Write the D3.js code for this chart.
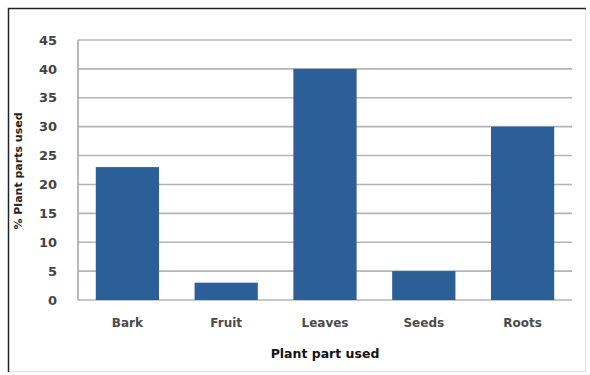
<!DOCTYPE html>
<html>
<head>
<meta charset="utf-8">
<script src="https://cdn.jsdelivr.net/npm/d3@7"></script>
<style>
  body { margin: 0; background: #fff; }
</style>
</head>
<body>
<div id="chart-area"></div>
<script>
var categories = ["Bark", "Fruit", "Leaves", "Seeds", "Roots"];
var percents = [23, 3, 40, 5, 30];
var yTicks = [0, 5, 10, 15, 20, 25, 30, 35, 40, 45];

var W = 590, H = 375;
var margin = {top: 40, right: 18, bottom: 75, left: 78};
var width = W - margin.left - margin.right;
var height = H - margin.top - margin.bottom;

var svg = d3.select("#chart-area")
  .append("svg")
    .attr("width", W)
    .attr("height", H);

// frame around the chart
svg.append("rect")
  .attr("x", 8.5).attr("y", 8.5)
  .attr("width", 577).attr("height", 363)
  .attr("fill", "none")
  .attr("stroke", "#e2e2e2");
svg.append("path")
  .attr("d", "M8.5,372V8.5H586")
  .attr("fill", "none")
  .attr("stroke", "#222")
  .attr("stroke-width", 1.5);

var g = svg.append("g")
  .attr("transform", "translate(" + margin.left + "," + margin.top + ")");

var x = d3.scaleBand()
  .domain(categories)
  .range([0, width])
  .paddingInner(0.36)
  .paddingOuter(0.18);

var y = d3.scaleLinear()
  .domain([0, 45])
  .range([height, 0]);

// gridlines
g.selectAll(".grid")
  .data(yTicks)
  .enter()
  .append("line")
    .attr("class", "grid")
    .attr("x1", 0)
    .attr("x2", width)
    .attr("y1", function(d) { return y(d); })
    .attr("y2", function(d) { return y(d); })
    .attr("stroke", "#b4b4b4")
    .attr("stroke-width", 1.6);

// left axis line
g.append("line")
  .attr("x1", 0).attr("x2", 0)
  .attr("y1", y(45)).attr("y2", y(0))
  .attr("stroke", "#a8a8a8")
  .attr("stroke-width", 1.6);

var leftAxis = d3.axisLeft(y)
  .tickValues(yTicks)
  .tickSize(0)
  .tickPadding(21);

var yAxisGroup = g.append("g").call(leftAxis);
yAxisGroup.select(".domain").remove();
yAxisGroup.selectAll("text")
  .attr("font-family", "DejaVu Sans, Verdana, sans-serif")
  .attr("font-size", "13px")
  .attr("font-weight", "bold")
  .attr("fill", "#444");

var bottomAxis = d3.axisBottom(x)
  .tickSize(0)
  .tickPadding(18);

var xAxisGroup = g.append("g")
  .attr("transform", "translate(0," + height + ")")
  .call(bottomAxis);
xAxisGroup.select(".domain").remove();
xAxisGroup.selectAll("text")
  .attr("font-family", "DejaVu Sans, Verdana, sans-serif")
  .attr("font-size", "12px")
  .attr("font-weight", "bold")
  .attr("fill", "#4a4a4a");

// bars
g.selectAll(".bar")
  .data(percents)
  .enter()
  .append("rect")
    .attr("class", "bar")
    .attr("x", function(d, i) { return x(categories[i]); })
    .attr("y", function(d) { return y(d); })
    .attr("width", x.bandwidth())
    .attr("height", function(d) { return height - y(d); })
    .attr("fill", "#2c5f98");

// axis titles
g.append("text")
  .attr("x", width / 2)
  .attr("y", height + 58)
  .attr("text-anchor", "middle")
  .attr("font-family", "DejaVu Sans, Verdana, sans-serif")
  .attr("font-size", "12.5px")
  .attr("font-weight", "bold")
  .attr("fill", "#111")
  .text("Plant part used");

g.append("text")
  .attr("transform", "rotate(-90)")
  .attr("x", -(height / 2) - 1)
  .attr("y", -56)
  .attr("text-anchor", "middle")
  .attr("font-family", "DejaVu Sans, Verdana, sans-serif")
  .attr("font-size", "11px")
  .attr("font-weight", "bold")
  .attr("fill", "#222")
  .text("% Plant parts used");
</script>
</body>
</html>
